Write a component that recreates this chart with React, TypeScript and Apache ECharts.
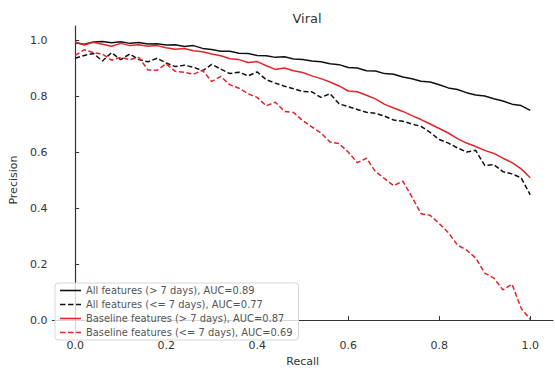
import React, { useEffect, useRef } from "react";
import * as echarts from "echarts";

const recall = [
  0.0, 0.02, 0.04, 0.06, 0.08, 0.1, 0.12, 0.14, 0.16, 0.18, 0.2, 0.22, 0.24, 0.26, 0.28, 0.3, 0.32, 0.34, 0.36, 0.38,
  0.4, 0.42, 0.44, 0.46, 0.48, 0.5, 0.52, 0.54, 0.56, 0.58, 0.6, 0.62, 0.64, 0.66, 0.68, 0.7, 0.72, 0.74, 0.76, 0.78,
  0.8, 0.82, 0.84, 0.86, 0.88, 0.9, 0.92, 0.94, 0.96, 0.98, 1.0,
];

const allLong = [
  0.99, 0.985, 0.993, 0.995, 0.99, 0.994, 0.988, 0.991, 0.986, 0.987, 0.982, 0.983, 0.977, 0.98, 0.97, 0.966, 0.96,
  0.96, 0.953, 0.952, 0.945, 0.944, 0.938, 0.94, 0.932, 0.93, 0.925, 0.922, 0.915, 0.912, 0.902, 0.9, 0.89, 0.889,
  0.88, 0.878, 0.868, 0.862, 0.853, 0.85, 0.84, 0.829, 0.823, 0.812, 0.804, 0.8, 0.79, 0.782, 0.771, 0.766, 0.749,
];

const allShort = [
  0.935, 0.945, 0.952, 0.925, 0.955, 0.93, 0.95, 0.93, 0.922, 0.935, 0.918, 0.905, 0.91, 0.903, 0.89, 0.913, 0.896,
  0.88, 0.885, 0.872, 0.886, 0.858, 0.846, 0.835, 0.826, 0.816, 0.815, 0.795, 0.808, 0.772, 0.762, 0.752, 0.742,
  0.738, 0.728, 0.714, 0.71, 0.7, 0.692, 0.67, 0.645, 0.632, 0.615, 0.6, 0.606, 0.552, 0.555, 0.53, 0.522, 0.508,
  0.447,
];

const baseLong = [
  0.993, 0.982, 0.992, 0.985, 0.978, 0.988, 0.98, 0.983, 0.978, 0.98, 0.972, 0.967, 0.97, 0.962, 0.958, 0.95, 0.944,
  0.933, 0.93, 0.92, 0.923, 0.908, 0.895, 0.9, 0.89, 0.884, 0.872, 0.862, 0.85, 0.836, 0.818, 0.815, 0.803, 0.79,
  0.77, 0.757, 0.745, 0.73, 0.716, 0.7, 0.684, 0.668, 0.648, 0.632, 0.62, 0.606, 0.595, 0.578, 0.562, 0.54, 0.508,
];

const baseShort = [
  0.945, 0.965, 0.955, 0.95, 0.928, 0.938, 0.93, 0.938, 0.893, 0.892, 0.915, 0.888, 0.885, 0.878, 0.892, 0.852, 0.87,
  0.84, 0.828, 0.808, 0.795, 0.765, 0.778, 0.745, 0.741, 0.712, 0.69, 0.668, 0.636, 0.63, 0.6, 0.562, 0.578, 0.53,
  0.505, 0.48, 0.496, 0.44, 0.38, 0.374, 0.345, 0.312, 0.268, 0.25, 0.222, 0.168, 0.15, 0.108, 0.128, 0.042, 0.003,
];

const seriesNames = [
  "All features (> 7 days), AUC=0.89",
  "All features (<= 7 days), AUC=0.77",
  "Baseline features (> 7 days), AUC=0.87",
  "Baseline features (<= 7 days), AUC=0.69",
];

const tickValues = [0, 0.2, 0.4, 0.6, 0.8, 1.0];

const BLACK = "#111111";
const RED = "#e3242b";
const FONT = "DejaVu Sans";
const SOLID_ICON = "path://M0 0H21V1.6H0Z";
const DASH_ICON = "path://M0 0H5.5V1.6H0Z M8 0H13.5V1.6H8Z M16 0H21V1.6H16Z";

export default function App() {
  const ref = useRef<HTMLDivElement>(null);

  useEffect(() => {
    document.body.style.margin = "0";
    if (!ref.current) return;
    const chart = echarts.init(ref.current, undefined, { renderer: "svg" });
    const pair = (ys: number[]) => recall.map((x, i) => [x, ys[i]]);
    const mk = (name: string, ys: number[], color: string, dashed: boolean) => ({
      name,
      type: "line",
      data: pair(ys),
      showSymbol: false,
      symbol: "none",
      lineStyle: { color, width: 1.5, type: dashed ? [5, 2.5] : "solid" },
      itemStyle: { color },
      z: 2,
    });
    const axisCommon = {
      type: "value",
      min: -0.05,
      max: 1.05,
      splitLine: { show: false },
      axisLine: { show: true, lineStyle: { color: "#333", width: 1.2 } },
      axisTick: { show: true, inside: true, length: 4, customValues: tickValues, lineStyle: { color: "#333" } },
      axisLabel: {
        customValues: tickValues,
        formatter: (v: number) => v.toFixed(1),
        color: "#333",
        fontSize: 11,
        fontFamily: FONT,
      },
      nameLocation: "middle",
      nameTextStyle: { color: "#333", fontSize: 11, fontFamily: FONT },
    };
    chart.setOption({
      animation: false,
      backgroundColor: "#ffffff",
      title: {
        text: "Viral",
        left: 302,
        top: 7,
        textAlign: "center",
        textStyle: { fontFamily: FONT, fontSize: 13, fontWeight: "normal", color: "#333" },
      },
      grid: { left: 52, right: 2, top: 26, bottom: 30.5 },
      xAxis: { ...axisCommon, name: "Recall", nameGap: 17, axisLabel: { ...axisCommon.axisLabel, margin: 6 } },
      yAxis: {
        ...axisCommon,
        name: "Precision",
        nameGap: 27,
        nameRotate: 90,
        axisLabel: { ...axisCommon.axisLabel, margin: 5 },
      },
      legend: {
        orient: "vertical",
        left: 55,
        top: 283,
        itemWidth: 21,
        itemHeight: 1.6,
        itemGap: 3,
        padding: [2, 6, 2, 5],
        borderColor: "#d6d6d6",
        borderWidth: 1,
        borderRadius: 3,
        backgroundColor: "rgba(255,255,255,0.8)",
        textStyle: { fontFamily: FONT, fontSize: 9.9, lineHeight: 11, color: "#555" },
        data: [
          { name: seriesNames[0], icon: SOLID_ICON },
          { name: seriesNames[1], icon: DASH_ICON },
          { name: seriesNames[2], icon: SOLID_ICON },
          { name: seriesNames[3], icon: DASH_ICON },
        ],
      },
      series: [
        mk(seriesNames[0], allLong, BLACK, false),
        mk(seriesNames[1], allShort, BLACK, true),
        mk(seriesNames[2], baseLong, RED, false),
        mk(seriesNames[3], baseShort, RED, true),
      ],
    });
    return () => chart.dispose();
  }, []);

  return <div ref={ref} style={{ width: 555, height: 372 }} />;
}
